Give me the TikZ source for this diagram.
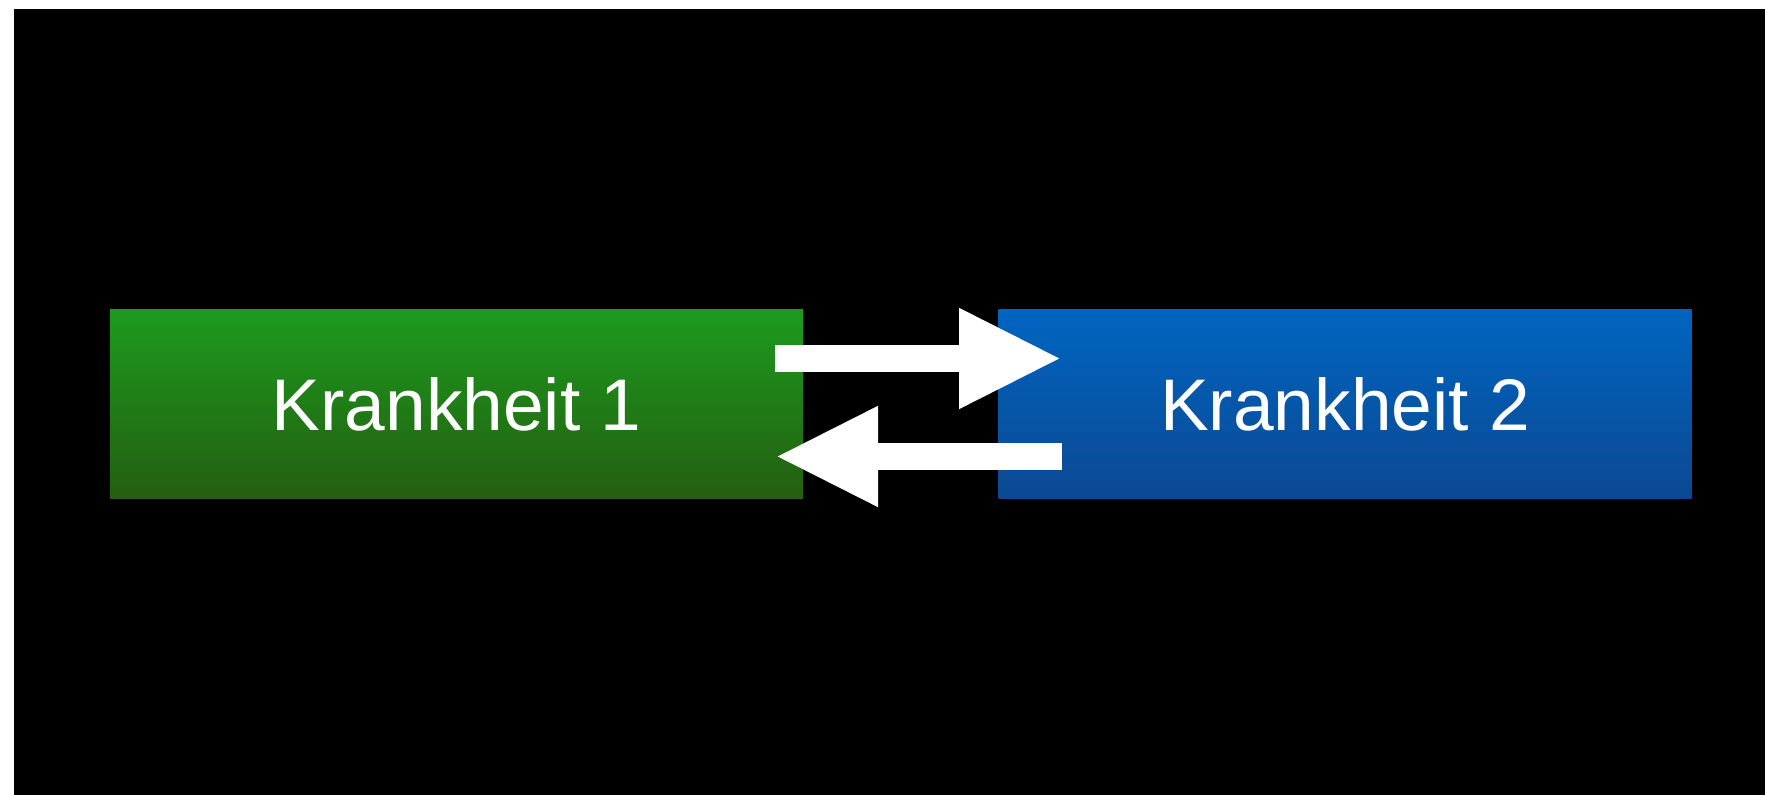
\documentclass[tikz,border=0pt]{standalone}
\usepackage{fontspec}
\setmainfont{Liberation Sans}
\usetikzlibrary{arrows.meta}

\definecolor{kgreentop}{RGB}{28,155,30}
\definecolor{kgreenbot}{RGB}{36,94,16}
\definecolor{kbluetop}{RGB}{0,101,192}
\definecolor{kbluebot}{RGB}{12,72,146}

\begin{document}
\begin{tikzpicture}[
    krank/.style={minimum width=6.93cm, minimum height=1.89cm, inner sep=0pt,
      text=white, font=\fontsize{20.8}{24}\selectfont},
    bigarrow/.style={white, line width=0.27cm,
      -{Triangle[length=1.03cm, width=0.93cm]}}
  ]
    % background
    \fill[white] (0,0) rectangle (17.65,7.95);
    \fill[black] (0.14,0) rectangle (17.65,7.86);

    \node[krank, top color=kgreentop, bottom color=kgreenbot] (k1) at (4.565,3.905) {Krankheit 1};
    \node[krank, top color=kbluetop, bottom color=kbluebot] (k2) at (13.45,3.905) {Krankheit 2};

    \coordinate (hinA) at (7.75,4.365);
    \coordinate (hinB) at (10.62,4.365);
    \coordinate (rueckA) at (10.62,3.385);
    \coordinate (rueckB) at (7.75,3.385);

    \draw[bigarrow] (hinA) -- (hinB);
    \draw[bigarrow] (rueckA) -- (rueckB);
\end{tikzpicture}
\end{document}
